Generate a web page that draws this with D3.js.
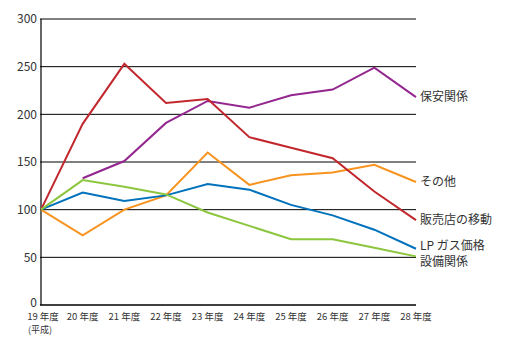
<!DOCTYPE html>
<html>
<head>
<meta charset="utf-8">
<script src="https://cdn.jsdelivr.net/npm/d3@7"></script>
<style>
  body { margin: 0; background: #fff; }
  svg text { font-family: "Noto Sans CJK JP", "Noto Sans", sans-serif; fill: #333; }
</style>
</head>
<body>
<svg id="canvas" width="518" height="352"></svg>
<script>
const years = ["19", "20", "21", "22", "23", "24", "25", "26", "27", "28"];
const yTicks = [0, 50, 100, 150, 200, 250, 300];

// index values (19年度 = 100)
const hoan = [null, 133, 151, 191, 214, 207, 220, 226, 249, 218];
const sonota = [100, 73, 100, 115, 160, 126, 136, 139, 147, 129];
const hanbai = [100, 190, 253, 212, 216, 176, 165, 154, 119, 89];
const lpgas = [100, 118, 109, 115, 127, 121, 105, 94, 79, 59];
const setsubi = [100, 131, 124, 116, 97, 83, 69, 69, 60, 51];

const seriesNames = ["保安関係", "その他", "販売店の移動", "LP ガス価格", "設備関係"];
const seriesValues = [hoan, sonota, hanbai, lpgas, setsubi];
const colors = ["#93278f", "#f7931e", "#c1272d", "#0071bc", "#8cc63f"];
// label y offsets (px) so the end labels don't collide
const labelNudge = [0, 0, 0, -3, 5];

const settings = { left: 41, right: 416, top: 19, bottom: 305 };

const svg = d3.select("#canvas");

const x = d3.scalePoint()
  .domain(years)
  .range([settings.left, settings.right]);

const y = d3.scaleLinear()
  .domain([0, 300])
  .range([settings.bottom, settings.top]);

// grid lines
svg.append("g")
  .selectAll("line")
  .data(yTicks)
  .join("line")
  .attr("x1", settings.left - 1)
  .attr("x2", settings.right)
  .attr("y1", d => y(d))
  .attr("y2", d => y(d))
  .attr("stroke", "#000")
  .attr("stroke-width", d => d === 0 ? 1.5 : 1);

// y axis line
svg.append("line")
  .attr("x1", settings.left).attr("x2", settings.left)
  .attr("y1", y(300)).attr("y2", y(0))
  .attr("stroke", "#000")
  .attr("stroke-width", 1.2);

// y tick labels
svg.append("g")
  .selectAll("text")
  .data(yTicks)
  .join("text")
  .attr("x", settings.left - 4)
  .attr("y", d => y(d) - (d === 0 ? 2 : 0))
  .attr("dy", "0.35em")
  .attr("text-anchor", "end")
  .attr("font-size", 12)
  .text(d => d);

// x tick labels
svg.append("g")
  .selectAll("text")
  .data(years)
  .join("text")
  .attr("x", d => x(d) + (d === "19" ? 2 : 0))
  .attr("y", settings.bottom + 15)
  .attr("text-anchor", "middle")
  .attr("font-size", 9.5)
  .text(d => `${d} 年度`);

svg.append("text")
  .attr("x", x(years[0]) - 13)
  .attr("y", settings.bottom + 28)
  .attr("font-size", 9)
  .text("(平成)");

const line = d3.line()
  .defined(d => d != null)
  .x((d, i) => x(years[i]))
  .y(d => y(d));

svg.append("g")
  .selectAll("path")
  .data(seriesValues)
  .join("path")
  .attr("d", d => line(d))
  .attr("fill", "none")
  .attr("stroke", (d, i) => colors[i])
  .attr("stroke-width", 2)
  .attr("stroke-linejoin", "miter");

// end labels
svg.append("g")
  .selectAll("text")
  .data(seriesValues)
  .join("text")
  .attr("x", settings.right + 4)
  .attr("y", (d, i) => y(d[d.length - 1]) + labelNudge[i])
  .attr("dy", "0.35em")
  .attr("font-size", 12)
  .text((d, i) => seriesNames[i]);
</script>
</body>
</html>
